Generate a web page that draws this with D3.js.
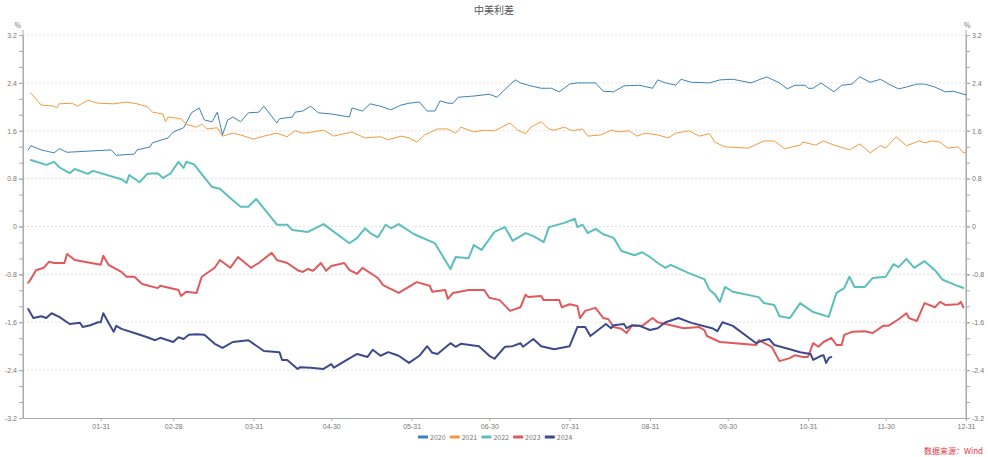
<!DOCTYPE html>
<html><head><meta charset="utf-8">
<script src="https://cdn.jsdelivr.net/npm/d3@7"></script>
<style>
body{margin:0;background:#fff;}
svg{display:block;font-family:"Noto Sans CJK SC","Noto Sans",sans-serif;}
</style></head>
<body><svg id="c" width="988" height="457"></svg>
<script>
// ---- data (day of year, value in %) ----
const seriesNames = ["2020","2021","2022","2023","2024"];
const s2020 = [[2,1.28],[3,1.35],[7,1.28],[12,1.23],[14,1.30],[17,1.24],[34,1.28],[36,1.19],[43,1.21],[44,1.28],[49,1.33],[50,1.40],[56,1.48],[58,1.58],[62,1.65],[63,1.73],[65,1.90],[68,1.98],[70,1.78],[73,1.75],[75,1.91],[77,1.53],[79,1.78],[81,1.83],[84,1.75],[87,1.90],[91,1.91],[93,2.01],[98,1.73],[99,1.80],[104,1.83],[105,1.91],[108,1.93],[111,2.01],[114,1.90],[119,1.88],[126,1.83],[127,1.98],[131,1.93],[134,2.05],[138,2.01],[142,1.95],[146,2.03],[149,2.06],[153,2.08],[156,1.93],[159,1.93],[161,2.10],[164,2.06],[166,2.06],[168,2.16],[174,2.18],[180,2.21],[183,2.16],[185,2.25],[190,2.45],[192,2.40],[196,2.35],[200,2.31],[204,2.31],[207,2.25],[211,2.38],[214,2.40],[218,2.40],[221,2.40],[224,2.26],[228,2.25],[232,2.35],[238,2.36],[243,2.31],[245,2.45],[248,2.40],[252,2.36],[254,2.46],[258,2.41],[265,2.40],[269,2.45],[274,2.46],[281,2.40],[287,2.50],[292,2.40],[295,2.30],[298,2.36],[302,2.36],[303,2.31],[305,2.31],[308,2.40],[313,2.25],[316,2.36],[320,2.38],[323,2.50],[327,2.41],[331,2.46],[335,2.36],[338,2.30],[341,2.33],[345,2.38],[348,2.38],[352,2.33],[356,2.25],[359,2.26],[364,2.20]];
const s2021 = [[3,2.23],[7,2.03],[12,2.01],[13,1.98],[14,2.05],[19,2.06],[21,2.01],[25,2.11],[29,2.06],[35,2.05],[40,2.08],[44,2.05],[48,2.00],[50,1.91],[54,1.88],[55,1.75],[56,1.83],[61,1.80],[63,1.71],[67,1.66],[69,1.71],[71,1.63],[75,1.65],[77,1.51],[81,1.56],[84,1.53],[89,1.46],[93,1.51],[98,1.56],[102,1.50],[105,1.60],[108,1.56],[112,1.58],[116,1.61],[120,1.51],[127,1.58],[132,1.48],[138,1.50],[141,1.45],[146,1.51],[149,1.48],[152,1.41],[155,1.53],[160,1.63],[164,1.63],[167,1.56],[169,1.66],[174,1.58],[178,1.61],[182,1.60],[188,1.73],[191,1.61],[194,1.55],[196,1.66],[200,1.75],[203,1.63],[205,1.61],[209,1.66],[212,1.60],[216,1.63],[218,1.51],[223,1.53],[227,1.61],[230,1.58],[234,1.60],[237,1.51],[240,1.56],[245,1.53],[249,1.48],[252,1.56],[257,1.60],[261,1.51],[265,1.55],[267,1.41],[271,1.33],[280,1.31],[286,1.43],[290,1.43],[294,1.30],[300,1.36],[301,1.41],[306,1.36],[309,1.43],[313,1.36],[319,1.28],[323,1.38],[327,1.23],[331,1.35],[333,1.31],[337,1.50],[341,1.35],[346,1.43],[348,1.40],[351,1.43],[354,1.41],[357,1.31],[361,1.33],[363,1.23],[364,1.24]];
const s2022 = [[3,1.11],[9,1.03],[12,1.08],[14,0.99],[18,0.89],[20,0.96],[25,0.88],[27,0.93],[38,0.79],[40,0.73],[41,0.86],[45,0.74],[48,0.88],[52,0.89],[54,0.81],[57,0.89],[60,1.08],[62,0.98],[63,1.08],[66,1.04],[73,0.66],[76,0.63],[81,0.44],[84,0.33],[87,0.33],[90,0.46],[98,0.03],[102,0.03],[104,-0.06],[110,-0.09],[116,0.04],[126,-0.28],[129,-0.19],[132,-0.03],[134,-0.11],[137,-0.18],[140,0.03],[142,-0.03],[145,0.04],[151,-0.13],[158,-0.26],[159,-0.28],[165,-0.71],[167,-0.51],[172,-0.53],[174,-0.31],[177,-0.39],[182,-0.09],[186,-0.01],[189,-0.24],[194,-0.11],[197,-0.16],[201,-0.26],[203,-0.01],[209,0.06],[213,0.13],[214,-0.01],[216,0.03],[218,-0.11],[221,-0.04],[224,-0.13],[228,-0.19],[231,-0.41],[236,-0.48],[239,-0.43],[242,-0.51],[245,-0.61],[248,-0.69],[250,-0.64],[257,-0.78],[263,-0.88],[265,-1.06],[267,-1.13],[269,-1.26],[271,-1.01],[274,-1.09],[284,-1.18],[286,-1.28],[290,-1.31],[292,-1.50],[296,-1.53],[300,-1.28],[305,-1.43],[311,-1.51],[314,-1.11],[317,-1.03],[319,-0.84],[321,-1.01],[325,-1.01],[328,-0.86],[333,-0.84],[336,-0.63],[338,-0.68],[341,-0.54],[344,-0.69],[348,-0.58],[352,-0.73],[355,-0.89],[360,-0.98],[362,-1.01],[363,-1.03]];
const s2023 = [[2,-0.94],[3,-0.88],[5,-0.73],[8,-0.69],[10,-0.59],[12,-0.61],[16,-0.61],[17,-0.46],[20,-0.56],[30,-0.64],[31,-0.49],[33,-0.64],[38,-0.76],[40,-0.84],[43,-0.84],[46,-0.96],[52,-1.03],[53,-0.99],[60,-1.06],[61,-1.16],[63,-1.09],[67,-1.11],[69,-0.84],[74,-0.69],[76,-0.56],[80,-0.69],[83,-0.51],[88,-0.69],[91,-0.61],[96,-0.44],[98,-0.56],[102,-0.61],[106,-0.73],[108,-0.76],[110,-0.71],[112,-0.74],[115,-0.61],[117,-0.74],[119,-0.66],[124,-0.61],[126,-0.73],[129,-0.79],[131,-0.69],[137,-0.86],[139,-0.98],[145,-1.11],[152,-0.93],[157,-0.99],[158,-1.09],[163,-1.06],[164,-1.21],[166,-1.11],[172,-1.06],[178,-1.06],[180,-1.19],[184,-1.23],[188,-1.41],[192,-1.35],[194,-1.14],[195,-1.18],[200,-1.16],[201,-1.23],[207,-1.23],[208,-1.35],[211,-1.30],[214,-1.33],[215,-1.53],[217,-1.41],[221,-1.36],[224,-1.53],[226,-1.55],[228,-1.68],[231,-1.71],[233,-1.78],[235,-1.66],[239,-1.66],[243,-1.53],[245,-1.60],[248,-1.63],[255,-1.70],[261,-1.68],[263,-1.73],[264,-1.83],[269,-1.93],[283,-1.98],[284,-1.90],[289,-2.01],[292,-2.25],[296,-2.20],[298,-2.15],[301,-2.18],[303,-2.18],[305,-1.95],[307,-2.01],[309,-1.93],[312,-1.86],[314,-1.98],[316,-1.98],[317,-1.81],[320,-1.76],[325,-1.75],[328,-1.78],[332,-1.66],[334,-1.66],[338,-1.55],[341,-1.45],[342,-1.53],[345,-1.58],[348,-1.28],[352,-1.35],[354,-1.26],[356,-1.31],[361,-1.30],[362,-1.26],[363,-1.35]];
const s2024 = [[2,-1.38],[4,-1.53],[7,-1.50],[9,-1.53],[11,-1.45],[14,-1.51],[18,-1.63],[22,-1.61],[23,-1.68],[26,-1.65],[29,-1.60],[30,-1.60],[31,-1.45],[33,-1.61],[35,-1.76],[36,-1.66],[38,-1.71],[43,-1.78],[48,-1.85],[51,-1.90],[53,-1.86],[58,-1.93],[60,-1.85],[62,-1.88],[64,-1.81],[67,-1.80],[70,-1.81],[74,-1.96],[77,-2.03],[81,-1.93],[87,-1.90],[93,-2.08],[99,-2.10],[100,-2.23],[102,-2.23],[106,-2.38],[107,-2.35],[111,-2.36],[116,-2.38],[119,-2.30],[120,-2.36],[125,-2.23],[129,-2.13],[133,-2.18],[135,-2.06],[138,-2.16],[141,-2.10],[145,-2.16],[149,-2.28],[153,-2.16],[156,-2.00],[158,-2.11],[160,-2.13],[165,-1.95],[167,-2.01],[169,-1.96],[176,-2.00],[180,-2.16],[182,-2.21],[186,-2.01],[189,-2.00],[192,-1.95],[193,-2.01],[197,-1.88],[200,-2.00],[205,-2.05],[211,-2.00],[214,-1.68],[217,-1.68],[219,-1.83],[225,-1.63],[227,-1.70],[228,-1.65],[232,-1.63],[233,-1.70],[235,-1.65],[238,-1.66],[242,-1.73],[245,-1.70],[248,-1.60],[253,-1.53],[258,-1.61],[266,-1.70],[268,-1.75],[270,-1.60],[274,-1.66],[283,-1.95],[285,-1.91],[288,-1.88],[290,-1.98],[296,-2.05],[300,-2.10],[304,-2.13],[305,-2.23],[308,-2.16],[309,-2.15],[310,-2.28],[311,-2.20],[312,-2.18]];
const xTickDays = [30,58,89,119,150,180,211,242,272,303,333,364];
const xTickLabels = ["01-31","02-28","03-31","04-30","05-31","06-30","07-31","08-31","09-30","10-31","11-30","12-31"];
const yTicks = [3.2,2.4,1.6,0.8,0,-0.8,-1.6,-2.4,-3.2];
const titleText = "中美利差";
const sourceText = "数据来源：Wind";

// ---- styles ----
const colors = ["#3b83b8","#f59a3c","#5bbfbd","#e05a5c","#3c4a8c"];
const widths = [1,1,2,2,2];
const allSeries = [s2020,s2021,s2022,s2023,s2024];

const svg = d3.select("#c");
const L = 23, R = 966, T = 35, B = 418;
const x = d3.scaleLinear().domain([0,364]).range([L,R]);
const y = d3.scaleLinear().domain([-3.2,3.2]).range([B,T]);

// title
svg.append("text").attr("x",494).attr("y",14).attr("text-anchor","middle")
  .attr("font-size",10).attr("fill","#555").text(titleText);

// gridlines
svg.append("g").selectAll("line").data(yTicks.filter(d=>d>-3.2)).join("line")
  .attr("x1",L).attr("x2",R).attr("y1",d=>y(d)).attr("y2",d=>y(d))
  .attr("stroke","#e2e2e2").attr("stroke-dasharray","2,2").attr("stroke-width",1);

const fmt = d => d===0 ? "0" : d.toFixed(1);
const minorTicks = d3.range(-3.2, 3.2001, 0.8/3).map(v=>+v.toFixed(4));

function styleAxis(g){
  g.selectAll("path.domain").attr("stroke","#aaa");
  g.selectAll(".tick line").attr("stroke","#aaa");
  g.selectAll(".tick text").attr("fill","#777").attr("font-size",7);
}
// left axis
const gl = svg.append("g").attr("transform",`translate(${L},0)`)
  .call(d3.axisLeft(y).tickValues(minorTicks).tickSize(4).tickSizeOuter(0).tickFormat(""));
styleAxis(gl);
const gl2 = svg.append("g").attr("transform",`translate(${L},0)`)
  .call(d3.axisLeft(y).tickValues(yTicks).tickSize(4).tickSizeOuter(0).tickFormat(fmt).tickPadding(2));
styleAxis(gl2); gl2.select("path.domain").remove();
// right axis
const gr = svg.append("g").attr("transform",`translate(${R},0)`)
  .call(d3.axisRight(y).tickValues(minorTicks).tickSize(4).tickSizeOuter(0).tickFormat(""));
styleAxis(gr);
const gr2 = svg.append("g").attr("transform",`translate(${R},0)`)
  .call(d3.axisRight(y).tickValues(yTicks).tickSize(4).tickSizeOuter(0).tickFormat(fmt).tickPadding(2));
styleAxis(gr2); gr2.select("path.domain").remove();
// extend axis lines up a bit
svg.append("line").attr("x1",L).attr("x2",L).attr("y1",30).attr("y2",B).attr("stroke","#aaa");
svg.append("line").attr("x1",R).attr("x2",R).attr("y1",30).attr("y2",B).attr("stroke","#aaa");
// unit labels
svg.append("text").attr("x",L-2).attr("y",28).attr("text-anchor","end").attr("font-size",7).attr("fill","#777").text("%");
svg.append("text").attr("x",R-2).attr("y",28).attr("text-anchor","start").attr("font-size",7).attr("fill","#777").text("%");

// bottom axis
const gb = svg.append("g").attr("transform",`translate(0,${B})`)
  .call(d3.axisBottom(x).tickValues(xTickDays).tickSize(3).tickSizeOuter(0)
    .tickFormat((d,i)=>xTickLabels[i]).tickPadding(3));
styleAxis(gb);

// lines
const line = d3.line().x(d=>x(d[0])).y(d=>y(d[1]));
allSeries.forEach((s,i)=>{
  svg.append("path").datum(s).attr("d",line).attr("fill","none")
    .attr("stroke",colors[i]).attr("stroke-width",widths[i])
    .attr("stroke-linejoin","round").attr("stroke-linecap","round");
});

// legend
const lg = svg.append("g").attr("transform","translate(418,437)");
seriesNames.forEach((n,i)=>{
  const g = lg.append("g").attr("transform",`translate(${i*31.7},0)`);
  g.append("rect").attr("x",0).attr("y",-1.5).attr("width",10).attr("height",3).attr("fill",colors[i]);
  g.append("text").attr("x",12).attr("y",2.5).attr("font-size",7).attr("fill","#777").text(n);
});

// source
svg.append("text").attr("x",983).attr("y",454).attr("text-anchor","end")
  .attr("font-size",8).attr("fill","#e0393e").text(sourceText);
</script></body></html>
